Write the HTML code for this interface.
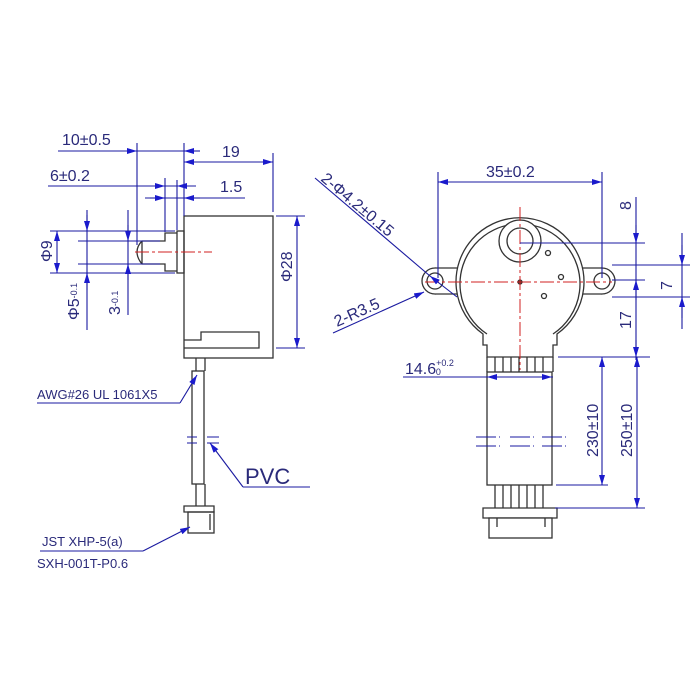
<!DOCTYPE html>
<html><head><meta charset="utf-8"><style>
html,body{margin:0;padding:0;background:#fff;}
svg{display:block}
text{font-family:"Liberation Sans",sans-serif;fill:#2a2a7a;}
</style></head><body>
<svg width="700" height="700" viewBox="0 0 700 700" xmlns="http://www.w3.org/2000/svg">
<defs>
<marker id="a" viewBox="0 0 10 6" refX="10" refY="3" markerWidth="10" markerHeight="6" markerUnits="userSpaceOnUse" orient="auto-start-reverse"><path d="M0,0 L10,3 L0,6 z" fill="#1a1acc"/></marker>
</defs>
<g fill="none" stroke="#333" stroke-width="1.3">
<!-- LEFT VIEW body -->
<rect x="184" y="216" width="89" height="142" fill="#fff"/>
<path d="M184 348 H259 V332 H201 V340 H184"/>
<rect x="177" y="231" width="7" height="42"/>
<path d="M177 233 H165 V241 H142 Q137 246 137 252 Q137 258 142 264 H165 V271 H177"/>
<path d="M142 241 V264"/>
<!-- cable -->
<path d="M196 358 V371 M205 358 V371"/>
<rect x="192" y="371" width="12" height="113"/>
<path d="M196 484 V506 M205 484 V506"/>
<path d="M184 506 H214 V512 H184 Z"/>
<rect x="188" y="512" width="26" height="21"/>
<path d="M210 514 V530"/>
</g>
<line x1="135" y1="252" x2="212" y2="252" stroke="#d02020" stroke-width="1" stroke-dasharray="14,3,3,3"/>
<g stroke="#1a1aa0" stroke-width="1.1" fill="none">
<!-- break marks left -->
<path d="M187 437 H197 M187 443 H197 M207 437 H219 M207 443 H219"/>
<!-- 10±0.5 -->
<path d="M58 151 H184" />
<line x1="120" y1="151" x2="137" y2="151" marker-end="url(#a)"/>
<line x1="200" y1="151" x2="184" y2="151" marker-end="url(#a)"/>
<path d="M137 143 V245 M184 143 V216"/>
<!-- 19 -->
<line x1="184" y1="162" x2="273" y2="162" marker-start="url(#a)" marker-end="url(#a)"/>
<path d="M273 153 V212"/>
<!-- 6±0.2 -->
<path d="M48 186 H196"/>
<line x1="120" y1="186" x2="165" y2="186" marker-end="url(#a)"/>
<line x1="196" y1="186" x2="177" y2="186" marker-end="url(#a)"/>
<path d="M165 178 V232 M177 180 V230"/>
<!-- 1.5 -->
<path d="M145 198 H245"/>
<line x1="150" y1="198" x2="165" y2="198" marker-end="url(#a)"/>
<line x1="200" y1="198" x2="184" y2="198" marker-end="url(#a)"/>
<!-- phi9 -->
<path d="M50 231 H175 M50 273 H175 M78 241 H160 M78 264 H160"/>
<line x1="57" y1="252" x2="57" y2="231" marker-end="url(#a)"/>
<line x1="57" y1="252" x2="57" y2="273" marker-end="url(#a)"/>
<!-- phi5 -->
<path d="M87 210 V330"/>
<line x1="87" y1="215" x2="87" y2="231" marker-end="url(#a)"/>
<line x1="87" y1="290" x2="87" y2="273" marker-end="url(#a)"/>
<!-- 3 -->
<path d="M128 210 V315"/>
<line x1="128" y1="225" x2="128" y2="241" marker-end="url(#a)"/>
<line x1="128" y1="280" x2="128" y2="264" marker-end="url(#a)"/>
<!-- phi28 -->
<path d="M276 216 H305 M276 348 H305"/>
<line x1="297" y1="216" x2="297" y2="348" marker-start="url(#a)" marker-end="url(#a)"/>
<!-- leaders -->
<path d="M37 403 H180"/><line x1="180" y1="403" x2="197" y2="375" marker-end="url(#a)"/>
<path d="M310 487 H243"/><line x1="243" y1="487" x2="210" y2="443" marker-end="url(#a)"/>
<path d="M40 551 H143"/><line x1="143" y1="551" x2="190" y2="527" marker-end="url(#a)"/>
</g>
<g font-size="16">
<text x="62" y="145">10±0.5</text>
<text x="222" y="157">19</text>
<text x="50" y="181">6±0.2</text>
<text x="220" y="192">1.5</text>
<text x="0" y="0" transform="translate(52,262) rotate(-90)">Φ9</text>
<text x="0" y="0" transform="translate(79,320) rotate(-90)">Φ5<tspan font-size="9" dy="-2">-0.1</tspan></text>
<text x="0" y="0" transform="translate(120,315) rotate(-90)">3<tspan font-size="9" dy="-2">-0.1</tspan></text>
<text x="0" y="0" transform="translate(292,282) rotate(-90)">Φ28</text>
<text x="37" y="399" font-size="13">AWG#26 UL 1061X5</text>
<text x="245" y="484" font-size="22">PVC</text>
<text x="42" y="546" font-size="13">JST XHP-5(a)</text>
<text x="37" y="568" font-size="13">SXH-001T-P0.6</text>
</g>

<!-- RIGHT VIEW -->
<g fill="#fff" stroke="#333" stroke-width="1.3">
<circle cx="435" cy="281" r="13"/>
<circle cx="602" cy="281" r="13"/>
<rect x="435" y="268" width="167" height="26" stroke="none"/>
<path d="M435 268 H602 M435 294 H602" fill="none"/>
<path d="M483 334 A64 64 0 1 1 557 334 V345 H553 V357 H487 V345 H483 Z"/>
<path d="M487 334 A60 60 0 1 1 553 334" fill="none"/>
<circle cx="435" cy="281" r="8"/>
<circle cx="602" cy="281" r="8"/>
<circle cx="520" cy="241" r="21"/>
<circle cx="520" cy="241" r="13"/>
<circle cx="548" cy="253" r="2.5"/>
<circle cx="561" cy="277" r="2.5"/>
<circle cx="544" cy="296" r="2.5"/>
<circle cx="520" cy="282" r="2" fill="#333"/>
<path d="M487 357 V372 M553 357 V372 M495 357 V372 M503 357 V372 M511 357 V372 M519 357 V372 M527 357 V372 M535 357 V372 M543 357 V372" fill="none"/>
<rect x="487" y="372" width="65" height="113"/>
<path d="M495 485 V508 M503 485 V508 M511 485 V508 M519 485 V508 M527 485 V508 M535 485 V508 M543 485 V508" fill="none"/>
<path d="M483 508 H557 V518 H483 Z"/>
<rect x="489" y="518" width="63" height="20"/>
<path d="M497 518 V527 M545 518 V527" fill="none"/>
</g>
<g stroke="#d02020" stroke-width="1" fill="none" stroke-dasharray="14,3,3,3">
<path d="M520 207 V370 M425 282 H612"/>
</g>
<g stroke="#1a1aa0" stroke-width="1.1" fill="none">
<path d="M476 437 H500 M476 446 H500 M510 437 H534 M510 446 H534 M542 437 H566 M542 446 H566" stroke-dasharray="20,3"/>
<!-- 35 -->
<line x1="438" y1="182" x2="602" y2="182" marker-start="url(#a)" marker-end="url(#a)"/>
<path d="M438 172 V278 M602 172 V278"/>
<!-- right dims -->
<path d="M636 197 V360 M682 233 V329"/>
<path d="M520 243 H645 M612 265 H690 M612 280 H645 M612 297 H690 M558 357 H650"/>
<line x1="636" y1="225" x2="636" y2="243" marker-end="url(#a)"/>
<line x1="636" y1="300" x2="636" y2="280" marker-end="url(#a)"/>
<line x1="636" y1="340" x2="636" y2="357" marker-end="url(#a)"/>
<line x1="682" y1="245" x2="682" y2="265" marker-end="url(#a)"/>
<line x1="682" y1="318" x2="682" y2="297" marker-end="url(#a)"/>
<!-- 14.6 -->
<path d="M403 377 H553"/>
<line x1="505" y1="377" x2="487" y2="377" marker-end="url(#a)"/>
<line x1="535" y1="377" x2="552" y2="377" marker-end="url(#a)"/>
<!-- 230 / 250 -->
<path d="M556 485 H608 M555 508 H645"/>
<line x1="602" y1="357" x2="602" y2="485" marker-start="url(#a)" marker-end="url(#a)"/>
<line x1="637" y1="357" x2="637" y2="508" marker-start="url(#a)" marker-end="url(#a)"/>
<!-- leaders -->
<path d="M315 178 L430 276"/><line x1="430" y1="276" x2="457" y2="297" marker-start="url(#a)"/>
<line x1="333" y1="333" x2="424" y2="292" marker-end="url(#a)"/>
</g>
<g font-size="16">
<text x="486" y="177">35±0.2</text>
<text x="0" y="0" transform="translate(320,180) rotate(40)">2-Φ4.2±0.15</text>
<text x="0" y="0" transform="translate(337,327) rotate(-24)">2-R3.5</text>
<text x="0" y="0" transform="translate(631,210) rotate(-90)">8</text>
<text x="0" y="0" transform="translate(672,290) rotate(-90)">7</text>
<text x="0" y="0" transform="translate(631,329) rotate(-90)">17</text>
<text x="405" y="374">14.6<tspan font-size="9" dy="-8">+0.2</tspan><tspan font-size="9" dx="-18" dy="9">0</tspan></text>
<text x="0" y="0" transform="translate(598,457) rotate(-90)">230±10</text>
<text x="0" y="0" transform="translate(632,457) rotate(-90)">250±10</text>
</g>
</svg>
</body></html>
